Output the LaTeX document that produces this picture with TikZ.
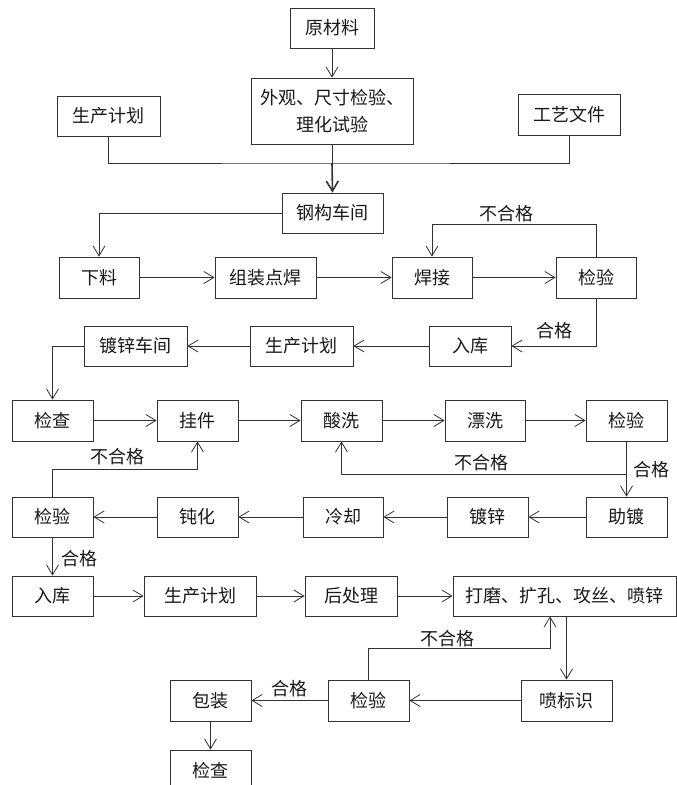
\documentclass[tikz,border=0pt]{standalone}
\usepackage{fontspec}
\setmainfont{Noto Sans CJK SC}
\usetikzlibrary{arrows.meta,calc}
\newcommand\mybox[6]{\node[box,minimum width=#4*0.75pt,minimum height=#5*0.75pt] (#1) at (#2,#3) {#6};}
\begin{document}
\begin{tikzpicture}[x=0.75pt,y=-0.75pt,
  box/.style={draw=black!80, line width=0.6pt, inner sep=0pt, align=center,
    font=\fontsize{13.5pt}{20.5pt}\selectfont, text=black!90},
  arr/.style={draw=black!80, line width=0.6pt, -{Straight Barb[length=7.5pt,width=9pt]}},
  ln/.style={draw=black!80, line width=0.6pt},
  lab/.style={font=\fontsize{13.5pt}{16pt}\selectfont, text=black!90, inner sep=0pt}]
\fill[white] (0,0) rectangle (677,785);
\useasboundingbox (0,0) rectangle (677,785);

% top
\mybox{raw}{332}{28}{84}{40}{原材料}
\mybox{insp}{332}{111}{162}{66}{外观、尺寸检验、\\理化试验}
\mybox{planA}{108.5}{116}{103}{40}{生产计划}
\mybox{tech}{569}{115}{102}{41}{工艺文件}
\mybox{steel}{332.5}{213}{101}{40}{钢构车间}

% row 1
\mybox{xl}{99}{277.5}{80}{41}{下料}
\mybox{zz}{265.5}{277.5}{101}{41}{组装点焊}
\mybox{hj}{432}{277.5}{80}{41}{焊接}
\mybox{jyA}{596}{277.5}{80}{41}{检验}

% row 2
\mybox{rkA}{470}{346}{82}{40}{入库}
\mybox{planB}{301.5}{346}{103}{40}{生产计划}
\mybox{dx}{135.5}{346}{103}{40}{镀锌车间}

% row 3
\mybox{jcA}{52.5}{420.5}{81}{41}{检查}
\mybox{gj}{197.5}{420.5}{81}{41}{挂件}
\mybox{sx}{341.5}{420.5}{81}{41}{酸洗}
\mybox{px}{485}{420.5}{80}{41}{漂洗}
\mybox{jyB}{626.5}{420.5}{81}{41}{检验}

% row 4
\mybox{zd}{626.5}{517}{81}{40}{助镀}
\mybox{dz}{487.5}{517}{81}{40}{镀锌}
\mybox{lq}{343}{517}{80}{40}{冷却}
\mybox{dh}{197.5}{517}{81}{40}{钝化}
\mybox{jyC}{52.5}{517}{81}{40}{检验}

% row 5
\mybox{rkB}{52.5}{596}{81}{40}{入库}
\mybox{planC}{200}{596}{112}{40}{生产计划}
\mybox{hcl}{351}{596}{92}{40}{后处理}
\mybox{dm}{564.5}{596}{223}{40}{打磨、扩孔、攻丝、喷锌}

% row 6
\mybox{pbs}{566.5}{700.5}{91}{41}{喷标识}
\mybox{jyD}{368.5}{700.5}{81}{41}{检验}
\mybox{bz}{210.5}{700.5}{81}{41}{包装}
\mybox{jcB}{210.5}{770.5}{81}{41}{检查}

% top connectors
\draw[arr] (raw) -- (insp);
\coordinate (j0) at (332,163);
\draw[ln] (planA.south) |- (j0) -| (tech.south);
\draw[ln] (insp.south) -- (j0);
\draw[arr, line width=1.2pt] (j0) -- (steel.north);
\draw[arr] (steel.west) -| (xl.north);

% row 1
\draw[arr] (xl) -- (zz);
\draw[arr] (zz) -- (hj);
\draw[arr] (hj) -- (jyA);
\coordinate (c1) at (596,224);
\draw[arr] (jyA.north) -- (c1) -| (hj.north);
\node[lab] (l1) at (506,214) {不合格};
\draw[arr] (jyA.south) |- (rkA.east);
\node[lab] (l2) at (554,331) {合格};

% row 2
\draw[arr] (rkA) -- (planB);
\draw[arr] (planB) -- (dx);
\draw[arr] (dx.west) -| (jcA.north);

% row 3
\draw[arr] (jcA) -- (gj);
\draw[arr] (gj) -- (sx);
\draw[arr] (sx) -- (px);
\draw[arr] (px) -- (jyB);
\draw[arr] (jyB.south) -- (zd.north);
\coordinate (c2) at (626.5,474);
\draw[arr] (c2) -| (sx.south);
\node[lab] (l3) at (481,463) {不合格};
\node[lab] (l4) at (651,470) {合格};

% row 4
\draw[arr] (zd) -- (dz);
\draw[arr] (dz) -- (lq);
\draw[arr] (lq) -- (dh);
\draw[arr] (dh) -- (jyC);
\coordinate (c3) at (52.5,469);
\draw[arr] (jyC.north) -- (c3) -| (gj.south);
\node[lab] (l5) at (117,457) {不合格};
\draw[arr] (jyC) -- (rkB);
\node[lab] (l6) at (79,559) {合格};

% row 5
\draw[arr] (rkB) -- (planC);
\draw[arr] (planC) -- (hcl);
\draw[arr] (hcl) -- (dm);
\draw[arr] (pbs.north |- dm.south) -- (pbs.north);

% row 6
\draw[arr] (pbs) -- (jyD);
\coordinate (c4) at (550,648);
\draw[arr] (jyD.north) |- (c4) -- (c4 |- dm.south);
\node[lab] (l7) at (447,639) {不合格};
\draw[arr] (jyD) -- (bz);
\node[lab] (l8) at (289,689) {合格};
\draw[arr] (bz) -- (jcB);
\end{tikzpicture}
\end{document}
